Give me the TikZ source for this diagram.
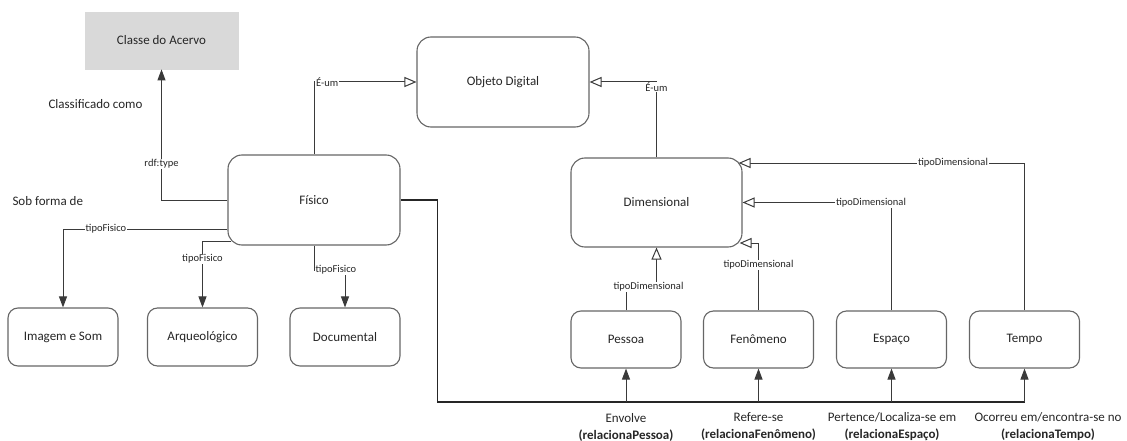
\documentclass[tikz,border=0pt]{standalone}
\usepackage{fontspec}
\setmainfont{Carlito}
\usetikzlibrary{arrows.meta}
\definecolor{boxline}{HTML}{666666}
\definecolor{wire}{HTML}{3A3A3A}
\definecolor{txt}{HTML}{262626}
\definecolor{grayfill}{HTML}{D9D9D9}
\begin{document}
\begin{tikzpicture}[x=1pt,y=-1pt,
  every node/.style={text=txt, font=\fontsize{13}{17}\selectfont},
  bigbox/.style={draw=boxline, line width=1.1pt, rounded corners=14pt, fill=white,
    minimum width=172pt, minimum height=90pt, inner sep=0pt},
  smallbox/.style={draw=boxline, line width=1.1pt, rounded corners=10pt, fill=white,
    minimum width=110pt, minimum height=58pt, inner sep=0pt},
  classbox/.style={draw=gray!30, fill=grayfill, line width=0.8pt,
    minimum width=153pt, minimum height=57pt, inner sep=0pt},
  wirestyle/.style={draw=wire, line width=1pt},
  solidhead/.style={wirestyle, -{Triangle[length=11pt,width=8pt]}},
  openhead/.style={wirestyle, -{Triangle[open,length=12pt,width=10pt,fill=white]}},
  bus/.style={draw=black!85, line width=1.8pt},
  tag/.style={fill=white, inner sep=1pt, font=\fontsize{10.5}{12}\selectfont},
  note/.style={align=center, font=\fontsize{13}{17}\selectfont},
]
\useasboundingbox (0,0) rectangle (1127,441);

% classes
\node[classbox] (cls) at (161.5,40.5) {Classe do Acervo};
\node[bigbox] (obj) at (503,82) {Objeto Digital};
\node[bigbox] (fis) at (314,200) {Físico};
\node[bigbox, minimum width=171pt, minimum height=89pt] (dim) at (656.5,202.5) {Dimensional};

% physical subtypes
\node[smallbox] (img) at (63,337) {Imagem e Som};
\node[smallbox] (arq) at (202.5,337) {Arqueológico};
\node[smallbox] (doc) at (345,337) {Documental};

% dimensional subtypes
\node[smallbox, minimum height=57pt] (pes) at (626,339.5) {Pessoa};
\node[smallbox, minimum height=57pt] (fen) at (758.5,339.5) {Fenômeno};
\node[smallbox, minimum height=57pt] (esp) at (891.5,339.5) {Espaço};
\node[smallbox, minimum height=57pt] (tmp) at (1024.5,339.5) {Tempo};

% free captions
\node[anchor=west] (clsnote) at (45,104) {Classificado como};
\node[anchor=west] (formnote) at (9,201) {Sob forma de};

% rdf:type
\draw[solidhead] (fis.west) -| (cls.south);
\node[tag] (lrdf) at (161.5,164) {rdf:type};

% generalisation to Objeto Digital
\draw[openhead] (fis.north) |- (obj.west);
\node[tag, anchor=west] (leum1) at (315,82) {É-um};
\draw[openhead] (dim.north) |- (obj.east);
\node[tag] (leum2) at (656.5,87) {É-um};

% tipoFisico
\draw[solidhead] ([yshift=-29pt]fis.west) -| (img.north);
\node[tag] (ltf1) at (106,229) {tipoFisico};
\draw[solidhead] ([xshift=4pt,yshift=-41pt]fis.west) -| (arq.north);
\node[tag] (ltf2) at (202.5,259) {tipoFisico};
\draw[solidhead] (fis.south) -- ++(0,25) -| (doc.north);
\node[tag] (ltf3) at (336,270) {tipoFisico};

% tipoDimensional
\draw[openhead] (pes.north) -- ++(0,-23) -| (dim.south);
\node[tag] (ltd1) at (648.5,287) {tipoDimensional};
\draw[openhead] (fen.north) |- ([xshift=-3pt,yshift=-40.5pt]dim.east);
\node[tag] (ltd2) at (758.5,265) {tipoDimensional};
\draw[openhead] (esp.north) |- (dim.east);
\node[tag] (ltd3) at (871,202.5) {tipoDimensional};
\draw[openhead] (tmp.north) |- ([xshift=-4pt,yshift=39.5pt]dim.east);
\node[tag] (ltd4) at (953,163) {tipoDimensional};

% relations from Físico to the dimensions
\coordinate (busend) at (1024.5,402);
\draw[bus] (fis.east) -- ++(37,0) |- (busend);
\draw[solidhead] (pes.south |- busend) -- (pes.south);
\draw[solidhead] (fen.south |- busend) -- (fen.south);
\draw[solidhead] (esp.south |- busend) -- (esp.south);
\draw[solidhead] (busend) -- (tmp.south);

\node[note] (npes) at (626,427) {Envolve\\\textbf{(relacionaPessoa)}};
\node[note] (nfen) at (758.5,427) {Refere-se\\\textbf{(relacionaFenômeno)}};
\node[note] (nesp) at (892,427) {Pertence/Localiza-se em\\\textbf{(relacionaEspaço)}};
\node[note] (ntmp) at (1048,427) {Ocorreu em/encontra-se no\\\textbf{(relacionaTempo)}};
\end{tikzpicture}
\end{document}
